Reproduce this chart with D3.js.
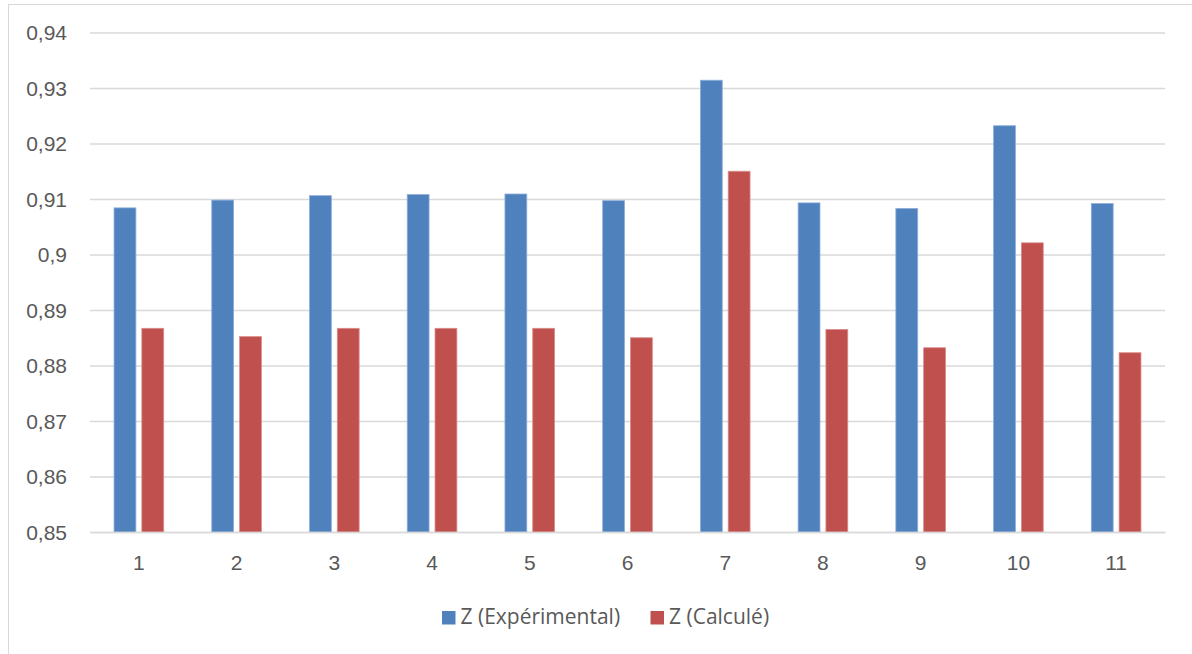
<!DOCTYPE html>
<html>
<head>
<meta charset="utf-8">
<script src="https://cdn.jsdelivr.net/npm/d3@7"></script>
<style>
  html, body { margin: 0; padding: 0; background: #fff; }
  svg { display: block; font-family: "Open Sans", "Noto Sans", sans-serif; }
</style>
</head>
<body>
<svg id="chart" width="1192" height="654"></svg>
<script>
// Compressibility factor Z for 11 samples: measured vs. calculated
const categories = ["1", "2", "3", "4", "5", "6", "7", "8", "9", "10", "11"];
const seriesNames = ["Z (Expérimental)", "Z (Calculé)"];
const zExperimental = [0.9084, 0.9098, 0.9106, 0.9108, 0.9109, 0.9097, 0.9314, 0.9093, 0.9083, 0.9232, 0.9092];
const zCalcule = [0.8867, 0.8852, 0.8867, 0.8867, 0.8867, 0.8850, 0.9150, 0.8865, 0.8832, 0.9021, 0.8823];
const yTicks = [0.85, 0.86, 0.87, 0.88, 0.89, 0.90, 0.91, 0.92, 0.93, 0.94];
const colors = ["#4F81BD", "#C0504D"];
const edgeColors = ["#8EAEDB", "#DA8C8A"];

const svg = d3.select("#chart");

// Outer chart frame
svg.append("rect")
  .attr("x", 8.5).attr("y", 4.5)
  .attr("width", 1200).attr("height", 700)
  .attr("fill", "none").attr("stroke", "#d9d9d9").attr("stroke-width", 1);

const plot = { left: 90, right: 1165, top: 32.5, bottom: 532 };

const y = d3.scaleLinear().domain([0.85, 0.94]).range([plot.bottom, plot.top]);
const x0 = d3.scaleBand().domain(categories).range([plot.left, plot.right]).padding(0);
const groupPad = x0.bandwidth() * 0.246;
const x1 = d3.scaleBand().domain(seriesNames)
  .range([groupPad, x0.bandwidth() - groupPad])
  .paddingInner(0.214).paddingOuter(0);

// Decimal comma, trailing zeros dropped (0,9 rather than 0,90)
const fmt = d => String(+d.toFixed(2)).replace(".", ",");

// Horizontal gridlines
const yAxis = d3.axisLeft(y)
  .tickValues(yTicks)
  .tickSize(-(plot.right - plot.left))
  .tickPadding(23)
  .tickFormat(fmt);

const gy = svg.append("g")
  .attr("transform", `translate(${plot.left},0)`)
  .call(yAxis);
gy.select(".domain").remove();
gy.selectAll(".tick line").attr("stroke", "#d9d9d9").attr("stroke-width", 1.5);
gy.selectAll(".tick text")
  .attr("fill", "#595959")
  .style("font-size", "21px")
  .attr("dy", "0.34em");

// Bars
const rows = categories.map((c, i) => ({ cat: c, values: [zExperimental[i], zCalcule[i]] }));
const groups = svg.append("g").selectAll("g")
  .data(rows).join("g")
  .attr("transform", d => `translate(${x0(d.cat)},0)`);

groups.selectAll("rect")
  .data(d => d.values.map((v, j) => ({ key: seriesNames[j], v, j })))
  .join("rect")
  .attr("x", d => x1(d.key))
  .attr("width", x1.bandwidth())
  .attr("y", d => y(d.v))
  .attr("height", d => y(0.85) - y(d.v))
  .attr("fill", d => colors[d.j])
  .attr("stroke", d => edgeColors[d.j])
  .attr("stroke-width", 0.8);

// Category axis
const xAxis = d3.axisBottom(x0).tickSize(0).tickPadding(23);
const gx = svg.append("g")
  .attr("transform", `translate(0,${plot.bottom})`)
  .call(xAxis);
gx.select(".domain").attr("stroke", "#d9d9d9").attr("stroke-width", 1.5);
gx.selectAll(".tick text")
  .attr("fill", "#595959")
  .style("font-size", "21px");

// Legend
const legendItems = [
  { name: seriesNames[0], color: colors[0], x: 442 },
  { name: seriesNames[1], color: colors[1], x: 650.5 }
];
const legend = svg.append("g");
const li = legend.selectAll("g").data(legendItems).join("g")
  .attr("transform", d => `translate(${d.x},611)`);
li.append("rect").attr("width", 13.5).attr("height", 13.5).attr("fill", d => d.color);
li.append("text")
  .attr("x", 18.5).attr("y", 13)
  .attr("fill", "#595959")
  .style("font-size", "21px")
  .text(d => d.name);
</script>
</body>
</html>
